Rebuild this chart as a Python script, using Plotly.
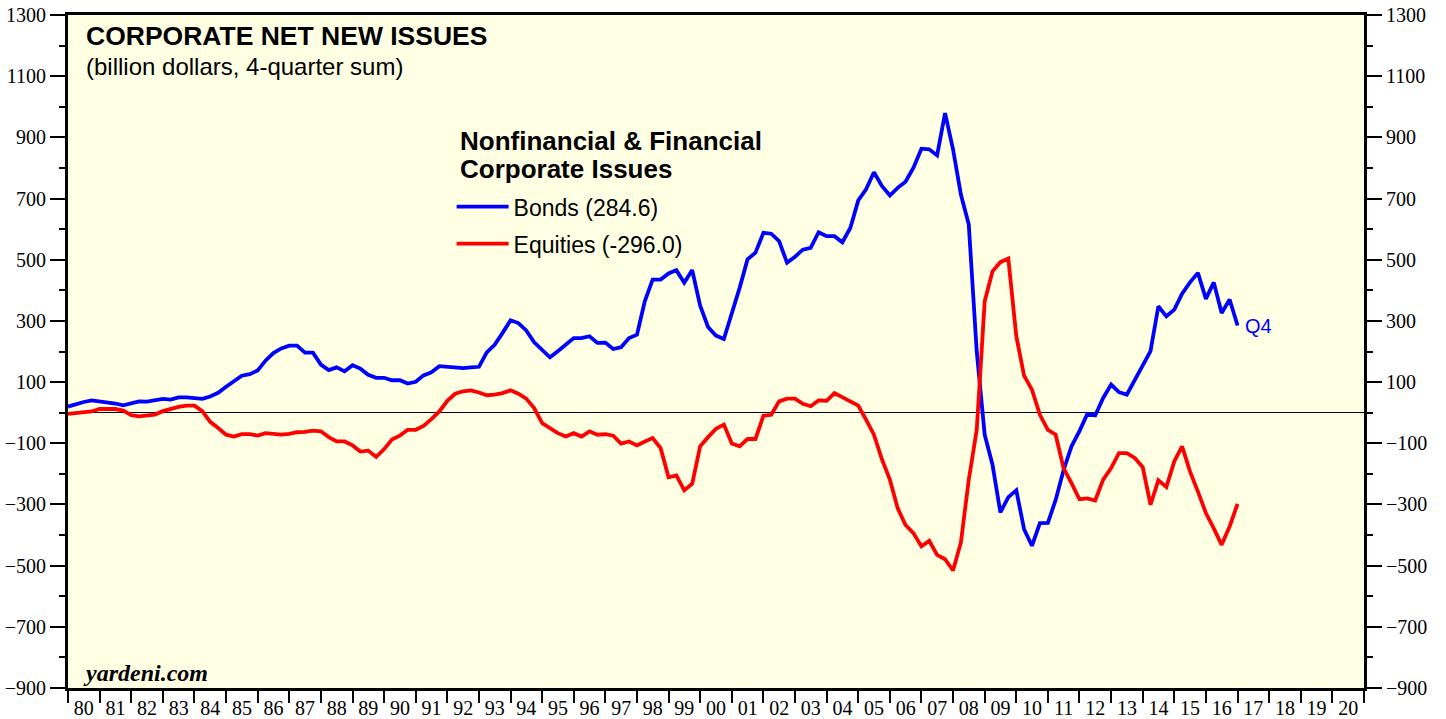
import pandas as pd
import plotly.graph_objects as go

# quarterly 4-quarter sums, billion dollars; first point is 1979Q4, last is 2016Q4
first_quarter = "1980-01-01"

bonds = [
    20, 28, 35, 40, 37, 35, 30, 24, 30, 37, 36, 42, 45, 43, 50, 50,          # 80-83
    46, 45, 53, 65, 85, 103, 121, 126, 138, 170, 195, 210, 219, 219, 196, 196,  # 84-87
    157, 139, 148, 135, 155, 144, 124, 114, 114, 106, 106, 95, 101, 122, 132, 152,  # 88-91
    150, 150, 146, 148, 150, 197, 222, 261, 302, 293, 269, 230, 206, 181, 201, 222,  # 92-95
    244, 244, 250, 228, 229, 208, 214, 244, 255, 364, 435, 435, 455, 466, 425, 466,  # 96-99
    350, 280, 252, 241, 325, 408, 501, 523, 588, 585, 561, 490, 510, 533, 539, 590,  # 00-03
    577, 577, 557, 604, 694, 730, 786, 741, 710, 735, 755, 801, 863, 861, 841, 979,  # 04-07
    861, 713, 615, 200, -72, -170, -326, -276, -254, -381, -435, -361, -360, -285, -188, -110,  # 08-11
    -60, -4, -9, 48, 92, 67, 59, 108, 152, 201, 348, 315, 337, 389, 426, 457,  # 12-15
    372, 426, 326, 370, 285,  # 16-
]

equities = [
    -4, -1, 2, 4, 12, 13, 12, 7, -8, -12, -10, -6, 5, 12, 19, 23,
    23, 5, -30, -50, -72, -78, -70, -70, -75, -67, -69, -72, -69, -64, -63, -59,
    -61, -80, -94, -94, -107, -127, -124, -145, -119, -88, -75, -56, -56, -43, -21, 4,
    39, 62, 70, 73, 66, 57, 59, 64, 73, 62, 46, 15, -34, -50, -67, -78,
    -67, -78, -61, -72, -70, -75, -101, -94, -107, -94, -83, -116, -211, -205, -254, -232,
    -110, -80, -53, -39, -101, -110, -86, -86, -10, -7, 37, 46, 46, 29, 21, 40,
    39, 64, 51, 37, 23, -23, -72, -152, -219, -312, -367, -394, -437, -419, -465, -479,
    -516, -424, -219, -56, 364, 462, 492, 504, 250, 121, 75, -7, -56, -72, -181, -230,
    -283, -280, -287, -219, -181, -132, -132, -148, -178, -301, -221, -243, -159, -110, -192, -258,
    -328, -378, -432, -372, -298,
]

bonds_label = "Bonds (284.6)"
equities_label = "Equities (-296.0)"

dates = pd.date_range(first_quarter, periods=len(bonds), freq="QS")

sans = "Liberation Sans"
serif = "Liberation Serif"

fig = go.Figure()

fig.add_trace(go.Scatter(x=dates, y=bonds, mode="lines", name=bonds_label,
                         legendgroup="b", line=dict(color="#0000FF", width=3.8)))
fig.add_trace(go.Scatter(x=dates, y=equities, mode="lines", name=equities_label,
                         legendgroup="e", line=dict(color="#FF0000", width=3.8)))
# invisible copy so the right-hand axis gets drawn
fig.add_trace(go.Scatter(x=dates, y=bonds, yaxis="y2", mode="lines", showlegend=False,
                         hoverinfo="skip", line=dict(color="rgba(0,0,0,0)")))

yaxis_common = dict(range=[-900, 1300], tick0=-900, dtick=200, ticks="outside",
                    ticklen=15, tickwidth=1.5, tickcolor="black", automargin=False,
                    minor=dict(dtick=100, tick0=-900, ticks="outside", ticklen=6,
                               tickwidth=1.5, tickcolor="black"),
                    showgrid=False, showline=True, linewidth=3, linecolor="black",
                    tickfont=dict(family=serif, size=20, color="black"))

fig.update_layout(
    width=1446, height=719,
    margin=dict(l=68, r=82, t=15, b=31),
    paper_bgcolor="white", plot_bgcolor="#FFFFE4",
    xaxis=dict(type="date", range=["1980-01-01", "2021-01-01"], tick0="1980-01-01",
               dtick="M12", tickformat="%y", ticklabelmode="period", automargin=False,
               ticks="outside", ticklen=12, tickwidth=2, tickcolor="black",
               ticklabelstandoff=-12,
               showgrid=False, showline=True, linewidth=3, linecolor="black", mirror=True,
               tickfont=dict(family=serif, size=20, color="black")),
    yaxis=dict(**yaxis_common, side="left", zeroline=True, zerolinecolor="black",
               zerolinewidth=1),
    yaxis2=dict(**yaxis_common, side="right", overlaying="y", zeroline=False),
    showlegend=True,
    legend=dict(x=0.296, y=0.747, xanchor="left", yanchor="top", itemwidth=52,
                bgcolor="rgba(0,0,0,0)", traceorder="grouped", tracegroupgap=4,
                font=dict(family=sans, size=23, color="black")),
    annotations=[
        dict(text="<b>CORPORATE NET NEW ISSUES</b>", x=0.012, y=0.969, xref="paper",
             yref="paper", xanchor="left", yanchor="middle", showarrow=False,
             font=dict(family=sans, size=26.5, color="black")),
        dict(text="(billion dollars, 4-quarter sum)", x=0.012, y=0.924, xref="paper",
             yref="paper", xanchor="left", yanchor="middle", showarrow=False,
             font=dict(family=sans, size=24, color="black")),
        dict(text="<b>Nonfinancial & Financial</b>", x=0.301, y=0.813, xref="paper",
             yref="paper", xanchor="left", yanchor="middle", showarrow=False,
             font=dict(family=sans, size=26, color="black")),
        dict(text="<b>Corporate Issues</b>", x=0.301, y=0.771, xref="paper",
             yref="paper", xanchor="left", yanchor="middle", showarrow=False,
             font=dict(family=sans, size=26, color="black")),
        dict(text="<b><i>yardeni.com</i></b>", x=0.010, y=0.022, xref="paper",
             yref="paper", xanchor="left", yanchor="middle", showarrow=False,
             font=dict(family=serif, size=24, color="black")),
        dict(text="Q4", x=dates[-1], y=bonds[-1], xanchor="left", yanchor="middle",
             xshift=5, showarrow=False, font=dict(family=sans, size=20, color="#0000FF")),
    ],
)

# the page has a default 8px body margin; drop it so the figure fills the window
fig.write_html("out.html", config={"displayModeBar": False},
               post_script="document.body.style.margin='0';")
